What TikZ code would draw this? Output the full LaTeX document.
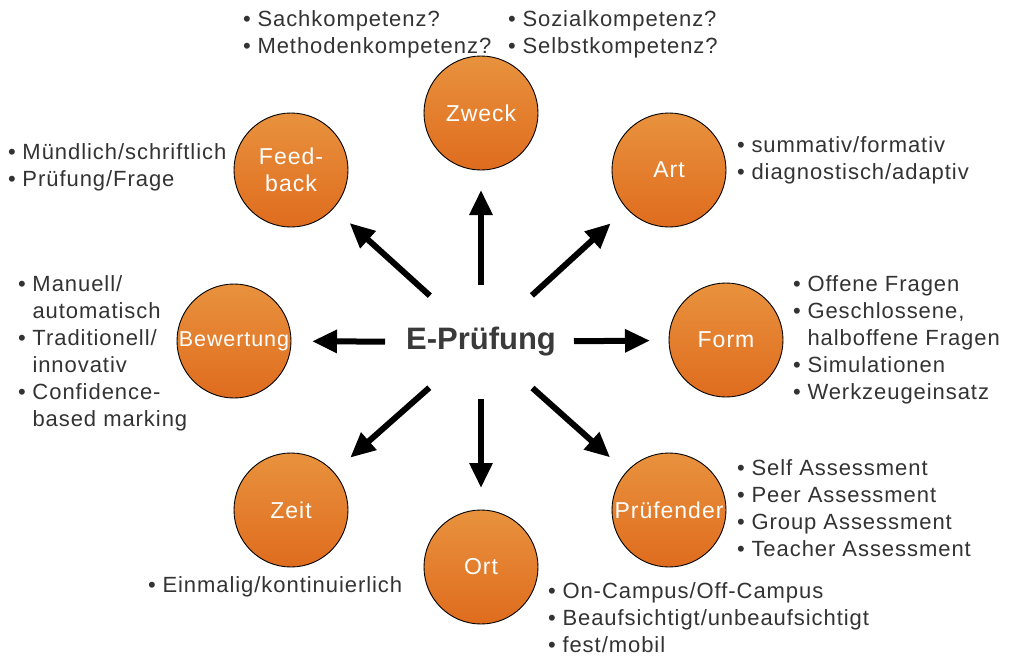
\documentclass[tikz,border=0pt]{standalone}
\usepackage{fontspec}
\setmainfont[LetterSpace=4.3]{Liberation Sans}
\newfontfamily\titlefont{Liberation Sans}
\usetikzlibrary{arrows.meta}
\definecolor{txt}{RGB}{51,51,51}
\definecolor{ttl}{RGB}{58,58,58}
\definecolor{otop}{RGB}{232,146,62}
\definecolor{obot}{RGB}{223,108,30}
\tikzset{
  topic/.style={circle, draw=black, line width=0.9pt, minimum size=114pt, inner sep=0pt,
    top color=otop, bottom color=obot, text=white, align=center,
    font=\fontsize{23}{27}\selectfont},
  item/.style={anchor=base west, inner sep=0pt, text=txt, font=\fontsize{22}{27}\selectfont},
  arr/.style={line width=6pt, -{Triangle[length=25pt,width=22pt]}},
}
\newcommand\bu{•\hspace{0.3em}}
\newcommand\bi{\phantom{•}\hspace{0.3em}}
\begin{document}
\begin{tikzpicture}[x=1pt,y=-1pt]
\useasboundingbox (0,0) rectangle (1010,662);
\fill[white] (0,0) rectangle (1010,662);

\node[inner sep=0pt, text=ttl, font=\titlefont\fontsize{31}{36}\selectfont\bfseries] (E) at (481,342) {E-Prüfung};

\node[topic] (zweck) at (481,113) {Zweck};
\node[topic] (art) at (669,170) {Art};
\node[topic] (form) at (726,340) {Form};
\node[topic] (pruef) at (669,510) {Prüfender};
\node[topic] (ort) at (481,567) {Ort};
\node[topic] (zeit) at (291,510) {Zeit};
\node[topic, font=\fontsize{21.5}{27}\selectfont] (bew) at (234,341) {Bewertung};
\node[topic] (feed) at (291,170) {Feed-\\back};

\draw[arr, shorten <=57pt, shorten >=77pt] (E.center) -- (zweck.center);
\draw[arr, shorten <=69pt, shorten >=79pt] (E.center) -- (art.center);
\draw[arr, shorten <=93pt, shorten >=76pt] (E.center) -- (form.center);
\draw[arr, shorten <=69pt, shorten >=79pt] (E.center) -- (pruef.center);
\draw[arr, shorten <=57pt, shorten >=79pt] (E.center) -- (ort.center);
\draw[arr, shorten <=69pt, shorten >=79pt] (E.center) -- (zeit.center);
\draw[arr, shorten <=96pt, shorten >=78pt] (E.center) -- (bew.center);
\draw[arr, shorten <=69pt, shorten >=79pt] (E.center) -- (feed.center);

% Zweck lists
\node[item] (z1) at (243,26) {\bu Sachkompetenz?};
\node[item] (z2) at (243,53) {\bu Methodenkompetenz?};
\node[item] (z3) at (508,26) {\bu Sozialkompetenz?};
\node[item] (z4) at (508,53) {\bu Selbstkompetenz?};
% Art
\node[item] (a1) at (737,152) {\bu summativ/formativ};
\node[item] (a2) at (737,179) {\bu diagnostisch/adaptiv};
% Feedback
\node[item] (f1) at (8,159) {\bu Mündlich/schriftlich};
\node[item] (f2) at (8,186) {\bu Prüfung/Frage};
% Form
\node[item] (o1) at (793,291) {\bu Offene Fragen};
\node[item] (o2) at (793,318) {\bu Geschlossene,};
\node[item] (o3) at (793,345) {\bi halboffene Fragen};
\node[item] (o4) at (793,372) {\bu Simulationen};
\node[item] (o5) at (793,399) {\bu Werkzeugeinsatz};
% Bewertung
\node[item] (b1) at (18,291) {\bu Manuell/};
\node[item] (b2) at (18,318) {\bi automatisch};
\node[item] (b3) at (18,345) {\bu Traditionell/};
\node[item] (b4) at (18,372) {\bi innovativ};
\node[item] (b5) at (18,399) {\bu Confidence-};
\node[item] (b6) at (18,426) {\bi based marking};
% Pruefender
\node[item] (p1) at (737,475) {\bu Self Assessment};
\node[item] (p2) at (737,502) {\bu Peer Assessment};
\node[item] (p3) at (737,529) {\bu Group Assessment};
\node[item] (p4) at (737,556) {\bu Teacher Assessment};
% Zeit
\node[item] (t1) at (148,592) {\bu Einmalig/kontinuierlich};
% Ort
\node[item] (r1) at (548,598) {\bu On-Campus/Off-Campus};
\node[item] (r2) at (548,625) {\bu Beaufsichtigt/unbeaufsichtigt};
\node[item] (r3) at (548,652) {\bu fest/mobil};
\end{tikzpicture}
\end{document}
